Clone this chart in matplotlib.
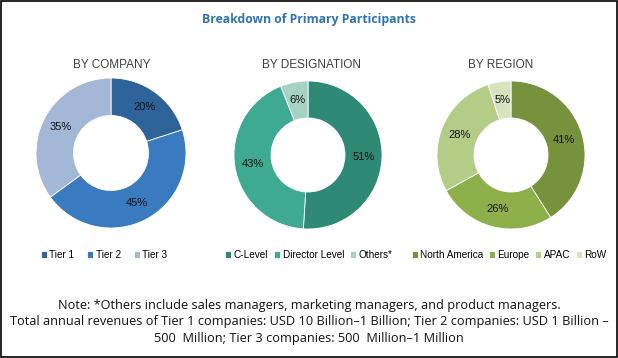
"""Breakdown of primary participants: three donut charts."""
import matplotlib
matplotlib.use("Agg")
import matplotlib.pyplot as plt
from matplotlib.patches import Rectangle

W, H = 618, 358

company_labels = ["Tier 1", "Tier 2", "Tier 3"]
company_values = [20, 45, 35]
company_colors = ["#2E6399", "#3A7ABF", "#A3B7D6"]

designation_labels = ["C-Level", "Director Level", "Others*"]
designation_values = [51, 43, 6]
designation_colors = ["#2F8A75", "#3DAA91", "#A6D2C4"]

region_labels = ["North America", "Europe", "APAC", "RoW"]
region_values = [41, 26, 28, 5]
region_colors = ["#76923C", "#8DB04A", "#B3CC86", "#D6E3BD"]

NOTE = ("Note: *Others include sales managers, marketing managers, and product managers.\n"
        "Total annual revenues of Tier 1 companies: USD 10 Billion\u20131 Billion; Tier 2 companies: USD 1 Billion \u2013\n"
        "500  Million; Tier 3 companies: 500  Million\u20131 Million")


def px(x, y):
    return x / W, 1 - y / H


def donut(fig, cx, cy, r, title, title_x, labels, values, colors, leg_x, colsp):
    ax = fig.add_axes([(cx - r) / W, (H - cy - r) / H, 2 * r / W, 2 * r / H])
    wedges, _, autotexts = ax.pie(
        values, colors=colors, startangle=90, counterclock=False, radius=1.0,
        wedgeprops=dict(width=0.5, edgecolor="white", linewidth=0.6),
        autopct=lambda p: f"{p:.0f}%", pctdistance=0.75,
        textprops=dict(fontsize=8, color="#111111", family="Liberation Sans"))
    ax.set_xlim(-1, 1)
    ax.set_ylim(-1, 1)
    ax.set_aspect("equal")
    ax.axis("off")
    fig.text(*px(title_x, 65), title, ha="center", va="center", fontsize=8.5,
             color="#404040", family="Liberation Sans")
    fig.legend(wedges, labels, loc="center", bbox_to_anchor=px(leg_x, 255), ncol=len(labels),
               frameon=False, handlelength=0.6, handleheight=0.6,
               handletextpad=0.25, columnspacing=colsp, borderaxespad=0,
               prop=dict(family="Liberation Sans", size=7.2))


def main():
    fig = plt.figure(figsize=(W / 100, H / 100), dpi=100)
    fig.patch.set_facecolor("white")

    fig.text(*px(309, 20), "Breakdown of Primary Participants", ha="center", va="center",
             fontsize=8.8, fontweight="bold", color="#2E74B5", family="Open Sans")

    donut(fig, 111, 153, 75, "BY COMPANY", 112, company_labels, company_values, company_colors,
          104, 1.3)
    donut(fig, 308, 155, 74, "BY DESIGNATION", 311, designation_labels, designation_values,
          designation_colors, 309, 0.6)
    donut(fig, 511, 155, 74, "BY REGION", 501, region_labels, region_values, region_colors,
          509, 0.55)

    fig.text(*px(309, 322), NOTE, ha="center", va="center", fontsize=9.2, color="#111111",
             family="Open Sans", linespacing=1.32)

    fig.patches.append(Rectangle((0.001, 0.002), 0.997, 0.996, transform=fig.transFigure,
                                 fill=False, edgecolor="black", linewidth=1.2))

    fig.savefig("out.png", dpi=100, facecolor="white")
    plt.close(fig)


if __name__ == "__main__":
    main()
